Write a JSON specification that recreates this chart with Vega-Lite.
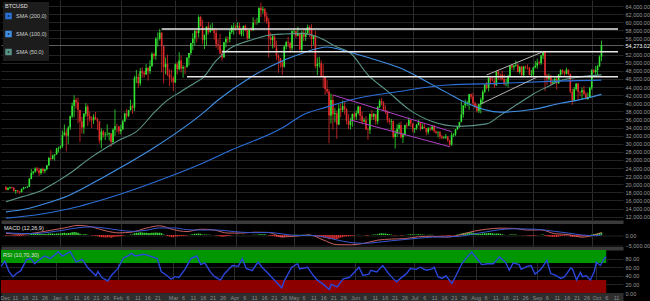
{
"$schema":"https://vega.github.io/schema/vega-lite/v6.json",
"background":"#000000",
"padding":0,
"bounds":"flush",
"spacing":3.5,
"config":{"font":"Liberation Sans","view":{"stroke":null},"axis":{"labelFont":"Liberation Sans","labelColor":"#9a9a9a","labelFontSize":5.5,"domain":false,"ticks":false,"title":null,"tickSize":0,"labelOverlap":false}},
"datasets":{
"px":[
{"d":"2020-12-04","o":19420,"h":19530,"l":18570,"c":18650,"m":-300},
{"d":"2020-12-05","o":18650,"h":19180,"l":18500,"c":19150,"m":-250},
{"d":"2020-12-06","o":19150,"h":19420,"l":18860,"c":19360,"m":-200},
{"d":"2020-12-07","o":19360,"h":19390,"l":18900,"c":19170,"m":-220},
{"d":"2020-12-08","o":19170,"h":19290,"l":18200,"c":18320,"m":-350},
{"d":"2020-12-09","o":18320,"h":18640,"l":17650,"c":18550,"m":-400},
{"d":"2020-12-10","o":18550,"h":18560,"l":17910,"c":18250,"m":-420},
{"d":"2020-12-11","o":18250,"h":18280,"l":17580,"c":18030,"m":-430},
{"d":"2020-12-12","o":18030,"h":18950,"l":18020,"c":18800,"m":-350},
{"d":"2020-12-13","o":18800,"h":19400,"l":18720,"c":19170,"m":-250},
{"d":"2020-12-14","o":19170,"h":19350,"l":19000,"c":19270,"m":-150},
{"d":"2020-12-15","o":19270,"h":19560,"l":19080,"c":19430,"m":-80},
{"d":"2020-12-16","o":19430,"h":21560,"l":19300,"c":21330,"m":200},
{"d":"2020-12-17","o":21330,"h":23770,"l":21250,"c":22800,"m":500},
{"d":"2020-12-18","o":22800,"h":23290,"l":22350,"c":23140,"m":650},
{"d":"2020-12-19","o":23140,"h":24170,"l":22800,"c":23870,"m":750},
{"d":"2020-12-20","o":23870,"h":24290,"l":23080,"c":23470,"m":700},
{"d":"2020-12-21","o":23470,"h":24070,"l":22020,"c":22740,"m":550},
{"d":"2020-12-22","o":22740,"h":23840,"l":22350,"c":23820,"m":550},
{"d":"2020-12-23","o":23820,"h":24100,"l":22720,"c":23250,"m":450},
{"d":"2020-12-24","o":23250,"h":23790,"l":22700,"c":23720,"m":420},
{"d":"2020-12-25","o":23720,"h":24780,"l":23450,"c":24700,"m":500},
{"d":"2020-12-26","o":24700,"h":26770,"l":24500,"c":26490,"m":700},
{"d":"2020-12-27","o":26490,"h":28420,"l":25860,"c":26280,"m":650},
{"d":"2020-12-28","o":26280,"h":27410,"l":26120,"c":27080,"m":650},
{"d":"2020-12-29","o":27080,"h":27390,"l":25880,"c":27360,"m":620},
{"d":"2020-12-30","o":27360,"h":28990,"l":27330,"c":28840,"m":700},
{"d":"2020-12-31","o":28840,"h":29300,"l":27860,"c":29000,"m":720},
{"d":"2021-01-01","o":29000,"h":29600,"l":28700,"c":29370,"m":700},
{"d":"2021-01-02","o":29370,"h":33300,"l":29000,"c":32130,"m":900},
{"d":"2021-01-03","o":32130,"h":34780,"l":32000,"c":32780,"m":1000},
{"d":"2021-01-04","o":32780,"h":33600,"l":28130,"c":31970,"m":850},
{"d":"2021-01-05","o":31970,"h":34400,"l":29900,"c":33990,"m":900},
{"d":"2021-01-06","o":33990,"h":36940,"l":33400,"c":36820,"m":1050},
{"d":"2021-01-07","o":36820,"h":40180,"l":36320,"c":39370,"m":1250},
{"d":"2021-01-08","o":39370,"h":41950,"l":36570,"c":40800,"m":1350},
{"d":"2021-01-09","o":40800,"h":41350,"l":38750,"c":40250,"m":1250},
{"d":"2021-01-10","o":40250,"h":41400,"l":35100,"c":38350,"m":1000},
{"d":"2021-01-11","o":38350,"h":38350,"l":30420,"c":35570,"m":550},
{"d":"2021-01-12","o":35570,"h":36630,"l":32530,"c":34000,"m":250},
{"d":"2021-01-13","o":34000,"h":37600,"l":32450,"c":37390,"m":300},
{"d":"2021-01-14","o":37390,"h":40000,"l":36700,"c":39160,"m":350},
{"d":"2021-01-15","o":39160,"h":39700,"l":34400,"c":36830,"m":150},
{"d":"2021-01-16","o":36830,"h":37950,"l":35400,"c":36070,"m":-50},
{"d":"2021-01-17","o":36070,"h":36800,"l":33850,"c":35800,"m":-200},
{"d":"2021-01-18","o":35800,"h":37300,"l":34900,"c":36630,"m":-250},
{"d":"2021-01-19","o":36630,"h":37850,"l":35900,"c":36070,"m":-350},
{"d":"2021-01-20","o":36070,"h":36400,"l":33400,"c":35550,"m":-450},
{"d":"2021-01-21","o":35550,"h":35550,"l":30070,"c":30830,"m":-900},
{"d":"2021-01-22","o":30830,"h":33800,"l":28850,"c":33000,"m":-1000},
{"d":"2021-01-23","o":33000,"h":33400,"l":31500,"c":32100,"m":-1100},
{"d":"2021-01-24","o":32100,"h":32900,"l":30900,"c":32290,"m":-1150},
{"d":"2021-01-25","o":32290,"h":34800,"l":32000,"c":32370,"m":-1150},
{"d":"2021-01-26","o":32370,"h":32800,"l":30800,"c":32570,"m":-1100},
{"d":"2021-01-27","o":32570,"h":32560,"l":29240,"c":30430,"m":-1250},
{"d":"2021-01-28","o":30430,"h":33800,"l":29900,"c":33470,"m":-1050},
{"d":"2021-01-29","o":33470,"h":38500,"l":31950,"c":34320,"m":-850},
{"d":"2021-01-30","o":34320,"h":34900,"l":32900,"c":34300,"m":-700},
{"d":"2021-01-31","o":34300,"h":34300,"l":32300,"c":33110,"m":-650},
{"d":"2021-02-01","o":33110,"h":34700,"l":32300,"c":33540,"m":-550},
{"d":"2021-02-02","o":33540,"h":35900,"l":33450,"c":35510,"m":-350},
{"d":"2021-02-03","o":35510,"h":37650,"l":35380,"c":37470,"m":-100},
{"d":"2021-02-04","o":37470,"h":38600,"l":36200,"c":36930,"m":-50},
{"d":"2021-02-05","o":36930,"h":38300,"l":36600,"c":38290,"m":50},
{"d":"2021-02-06","o":38290,"h":40900,"l":38200,"c":39260,"m":200},
{"d":"2021-02-07","o":39260,"h":39700,"l":37400,"c":38900,"m":250},
{"d":"2021-02-08","o":38900,"h":46800,"l":38100,"c":46200,"m":800},
{"d":"2021-02-09","o":46200,"h":48200,"l":45000,"c":46480,"m":1100},
{"d":"2021-02-10","o":46480,"h":47300,"l":43800,"c":44920,"m":1100},
{"d":"2021-02-11","o":44920,"h":48700,"l":44300,"c":47910,"m":1250},
{"d":"2021-02-12","o":47910,"h":48900,"l":46300,"c":47500,"m":1200},
{"d":"2021-02-13","o":47500,"h":48000,"l":46300,"c":47110,"m":1100},
{"d":"2021-02-14","o":47110,"h":49700,"l":47000,"c":48720,"m":1100},
{"d":"2021-02-15","o":48720,"h":49000,"l":45600,"c":47940,"m":950},
{"d":"2021-02-16","o":47940,"h":50600,"l":47200,"c":49200,"m":950},
{"d":"2021-02-17","o":49200,"h":52600,"l":48900,"c":52150,"m":1100},
{"d":"2021-02-18","o":52150,"h":52500,"l":50900,"c":51680,"m":1000},
{"d":"2021-02-19","o":51680,"h":56300,"l":50700,"c":55890,"m":1150},
{"d":"2021-02-20","o":55890,"h":57500,"l":54000,"c":55920,"m":1100},
{"d":"2021-02-21","o":55920,"h":58350,"l":55500,"c":57410,"m":1100},
{"d":"2021-02-22","o":57410,"h":57500,"l":47600,"c":54090,"m":800},
{"d":"2021-02-23","o":54090,"h":54200,"l":44900,"c":48890,"m":200},
{"d":"2021-02-24","o":48890,"h":51300,"l":47100,"c":49700,"m":-100},
{"d":"2021-02-25","o":49700,"h":52000,"l":46700,"c":47090,"m":-450},
{"d":"2021-02-26","o":47090,"h":48400,"l":44200,"c":46340,"m":-750},
{"d":"2021-02-27","o":46340,"h":48300,"l":45100,"c":46190,"m":-900},
{"d":"2021-02-28","o":46190,"h":46700,"l":43000,"c":45140,"m":-1050},
{"d":"2021-03-01","o":45140,"h":49800,"l":45000,"c":49630,"m":-700},
{"d":"2021-03-02","o":49630,"h":50200,"l":47100,"c":48380,"m":-650},
{"d":"2021-03-03","o":48380,"h":52600,"l":48100,"c":50540,"m":-450},
{"d":"2021-03-04","o":50540,"h":51800,"l":47600,"c":48560,"m":-500},
{"d":"2021-03-05","o":48560,"h":49400,"l":46300,"c":48930,"m":-450},
{"d":"2021-03-06","o":48930,"h":49200,"l":47100,"c":48910,"m":-400},
{"d":"2021-03-07","o":48910,"h":51400,"l":48900,"c":51210,"m":-200},
{"d":"2021-03-08","o":51210,"h":52400,"l":49300,"c":52380,"m":0},
{"d":"2021-03-09","o":52380,"h":54900,"l":51900,"c":54880,"m":250},
{"d":"2021-03-10","o":54880,"h":57300,"l":53100,"c":55960,"m":400},
{"d":"2021-03-11","o":55960,"h":58100,"l":54300,"c":57800,"m":550},
{"d":"2021-03-12","o":57800,"h":58000,"l":55000,"c":57330,"m":550},
{"d":"2021-03-13","o":57330,"h":61700,"l":56200,"c":61240,"m":750},
{"d":"2021-03-14","o":61240,"h":61600,"l":58900,"c":59030,"m":600},
{"d":"2021-03-15","o":59030,"h":60600,"l":54600,"c":55640,"m":250},
{"d":"2021-03-16","o":55640,"h":56900,"l":53400,"c":56920,"m":200},
{"d":"2021-03-17","o":56920,"h":58900,"l":54200,"c":58920,"m":250},
{"d":"2021-03-18","o":58920,"h":60000,"l":57000,"c":57650,"m":150},
{"d":"2021-03-19","o":57650,"h":59400,"l":57400,"c":58030,"m":100},
{"d":"2021-03-20","o":58030,"h":59800,"l":57900,"c":58100,"m":50},
{"d":"2021-03-21","o":58100,"h":58600,"l":55700,"c":57350,"m":-50},
{"d":"2021-03-22","o":57350,"h":58300,"l":53700,"c":54530,"m":-250},
{"d":"2021-03-23","o":54530,"h":55800,"l":53100,"c":54340,"m":-400},
{"d":"2021-03-24","o":54340,"h":57100,"l":52100,"c":52300,"m":-600},
{"d":"2021-03-25","o":52300,"h":53200,"l":50500,"c":51320,"m":-800},
{"d":"2021-03-26","o":51320,"h":55100,"l":51300,"c":55030,"m":-700},
{"d":"2021-03-27","o":55030,"h":56500,"l":53800,"c":55860,"m":-600},
{"d":"2021-03-28","o":55860,"h":56500,"l":54800,"c":55780,"m":-500},
{"d":"2021-03-29","o":55780,"h":58300,"l":55000,"c":57590,"m":-300},
{"d":"2021-03-30","o":57590,"h":59300,"l":57100,"c":58770,"m":-100},
{"d":"2021-03-31","o":58770,"h":59800,"l":56900,"c":58900,"m":0},
{"d":"2021-04-01","o":58900,"h":59400,"l":57900,"c":58760,"m":50},
{"d":"2021-04-02","o":58760,"h":60000,"l":58500,"c":59080,"m":100},
{"d":"2021-04-03","o":59080,"h":59800,"l":57000,"c":57000,"m":50},
{"d":"2021-04-04","o":57000,"h":58400,"l":56500,"c":58220,"m":50},
{"d":"2021-04-05","o":58220,"h":59200,"l":56500,"c":59100,"m":100},
{"d":"2021-04-06","o":59100,"h":59400,"l":57700,"c":57990,"m":50},
{"d":"2021-04-07","o":57990,"h":58600,"l":55500,"c":55990,"m":-50},
{"d":"2021-04-08","o":55990,"h":58200,"l":55800,"c":58090,"m":0},
{"d":"2021-04-09","o":58090,"h":58800,"l":57700,"c":58040,"m":0},
{"d":"2021-04-10","o":58040,"h":61200,"l":57900,"c":59890,"m":100},
{"d":"2021-04-11","o":59890,"h":60700,"l":59400,"c":59860,"m":150},
{"d":"2021-04-12","o":59860,"h":61100,"l":59400,"c":59880,"m":150},
{"d":"2021-04-13","o":59880,"h":63600,"l":59800,"c":63560,"m":350},
{"d":"2021-04-14","o":63560,"h":64850,"l":61300,"c":62960,"m":400},
{"d":"2021-04-15","o":62960,"h":63800,"l":62100,"c":63200,"m":400},
{"d":"2021-04-16","o":63200,"h":63500,"l":60100,"c":61400,"m":300},
{"d":"2021-04-17","o":61400,"h":62500,"l":59600,"c":60130,"m":150},
{"d":"2021-04-18","o":60130,"h":61000,"l":51300,"c":56150,"m":-250},
{"d":"2021-04-19","o":56150,"h":57500,"l":54400,"c":55600,"m":-450},
{"d":"2021-04-20","o":55600,"h":57000,"l":53500,"c":56470,"m":-450},
{"d":"2021-04-21","o":56470,"h":56700,"l":53800,"c":53800,"m":-600},
{"d":"2021-04-22","o":53800,"h":55400,"l":50600,"c":51700,"m":-800},
{"d":"2021-04-23","o":51700,"h":52100,"l":47500,"c":51150,"m":-950},
{"d":"2021-04-24","o":51150,"h":51200,"l":48800,"c":50050,"m":-1050},
{"d":"2021-04-25","o":50050,"h":50500,"l":47000,"c":49000,"m":-1150},
{"d":"2021-04-26","o":49000,"h":54300,"l":48800,"c":54020,"m":-850},
{"d":"2021-04-27","o":54020,"h":55400,"l":53300,"c":55050,"m":-550},
{"d":"2021-04-28","o":55050,"h":56400,"l":53900,"c":54880,"m":-400},
{"d":"2021-04-29","o":54880,"h":55200,"l":52400,"c":53580,"m":-350},
{"d":"2021-04-30","o":53580,"h":58000,"l":53000,"c":57750,"m":-50},
{"d":"2021-05-01","o":57750,"h":58400,"l":57100,"c":57830,"m":100},
{"d":"2021-05-02","o":57830,"h":57900,"l":56100,"c":56630,"m":100},
{"d":"2021-05-03","o":56630,"h":58900,"l":56500,"c":57200,"m":150},
{"d":"2021-05-04","o":57200,"h":57200,"l":53000,"c":53250,"m":-50},
{"d":"2021-05-05","o":53250,"h":57900,"l":52900,"c":57440,"m":100},
{"d":"2021-05-06","o":57440,"h":58300,"l":55300,"c":56400,"m":100},
{"d":"2021-05-07","o":56400,"h":58500,"l":55400,"c":57360,"m":150},
{"d":"2021-05-08","o":57360,"h":59400,"l":56900,"c":58800,"m":200},
{"d":"2021-05-09","o":58800,"h":59200,"l":56300,"c":58230,"m":200},
{"d":"2021-05-10","o":58230,"h":59500,"l":53500,"c":55860,"m":50},
{"d":"2021-05-11","o":55860,"h":56800,"l":54400,"c":56700,"m":50},
{"d":"2021-05-12","o":56700,"h":57900,"l":48600,"c":49150,"m":-450},
{"d":"2021-05-13","o":49150,"h":51300,"l":46900,"c":49720,"m":-700},
{"d":"2021-05-14","o":49720,"h":51500,"l":48800,"c":49880,"m":-850},
{"d":"2021-05-15","o":49880,"h":50600,"l":46600,"c":46760,"m":-1100},
{"d":"2021-05-16","o":46760,"h":49700,"l":43800,"c":46450,"m":-1200},
{"d":"2021-05-17","o":46450,"h":46600,"l":42100,"c":43540,"m":-1400},
{"d":"2021-05-18","o":43540,"h":45700,"l":42300,"c":42910,"m":-1500},
{"d":"2021-05-19","o":42910,"h":43500,"l":30100,"c":37000,"m":-2000},
{"d":"2021-05-20","o":37000,"h":42400,"l":35000,"c":40780,"m":-1900},
{"d":"2021-05-21","o":40780,"h":42100,"l":33500,"c":37300,"m":-2000},
{"d":"2021-05-22","o":37300,"h":38800,"l":35300,"c":37530,"m":-1900},
{"d":"2021-05-23","o":37530,"h":38200,"l":31200,"c":34770,"m":-2000},
{"d":"2021-05-24","o":34770,"h":39800,"l":34600,"c":38700,"m":-1500},
{"d":"2021-05-25","o":38700,"h":39800,"l":36500,"c":38400,"m":-1200},
{"d":"2021-05-26","o":38400,"h":40700,"l":37800,"c":39290,"m":-900},
{"d":"2021-05-27","o":39290,"h":40300,"l":37200,"c":38530,"m":-700},
{"d":"2021-05-28","o":38530,"h":38800,"l":34800,"c":35680,"m":-700},
{"d":"2021-05-29","o":35680,"h":37300,"l":33600,"c":34650,"m":-600},
{"d":"2021-05-30","o":34650,"h":36400,"l":33500,"c":35680,"m":-500},
{"d":"2021-05-31","o":35680,"h":37500,"l":34200,"c":37340,"m":-300},
{"d":"2021-06-01","o":37340,"h":37900,"l":35700,"c":36690,"m":-200},
{"d":"2021-06-02","o":36690,"h":38200,"l":35900,"c":37570,"m":-50},
{"d":"2021-06-03","o":37570,"h":39400,"l":37200,"c":39190,"m":150},
{"d":"2021-06-04","o":39190,"h":39200,"l":35600,"c":36850,"m":50},
{"d":"2021-06-05","o":36850,"h":37900,"l":34800,"c":35520,"m":-50},
{"d":"2021-06-06","o":35520,"h":36400,"l":35300,"c":35800,"m":0},
{"d":"2021-06-07","o":35800,"h":36800,"l":33400,"c":33590,"m":-200},
{"d":"2021-06-08","o":33590,"h":34000,"l":31000,"c":33470,"m":-300},
{"d":"2021-06-09","o":33470,"h":37500,"l":32400,"c":37350,"m":0},
{"d":"2021-06-10","o":37350,"h":38300,"l":35800,"c":36680,"m":100},
{"d":"2021-06-11","o":36680,"h":37600,"l":35900,"c":37330,"m":250},
{"d":"2021-06-12","o":37330,"h":37400,"l":34700,"c":35550,"m":200},
{"d":"2021-06-13","o":35550,"h":39300,"l":34800,"c":39100,"m":400},
{"d":"2021-06-14","o":39100,"h":41000,"l":38800,"c":40520,"m":650},
{"d":"2021-06-15","o":40520,"h":41300,"l":39500,"c":40140,"m":800},
{"d":"2021-06-16","o":40140,"h":40500,"l":38200,"c":38350,"m":750},
{"d":"2021-06-17","o":38350,"h":39500,"l":37400,"c":38090,"m":700},
{"d":"2021-06-18","o":38090,"h":38200,"l":35200,"c":35820,"m":500},
{"d":"2021-06-19","o":35820,"h":36400,"l":34800,"c":35480,"m":350},
{"d":"2021-06-20","o":35480,"h":36100,"l":33400,"c":35600,"m":250},
{"d":"2021-06-21","o":35600,"h":35700,"l":31300,"c":31680,"m":-100},
{"d":"2021-06-22","o":31680,"h":33300,"l":28800,"c":32510,"m":-200},
{"d":"2021-06-23","o":32510,"h":34800,"l":31700,"c":33690,"m":-150},
{"d":"2021-06-24","o":33690,"h":35200,"l":32300,"c":34660,"m":-50},
{"d":"2021-06-25","o":34660,"h":35500,"l":31300,"c":31590,"m":-250},
{"d":"2021-06-26","o":31590,"h":32700,"l":30200,"c":32200,"m":-250},
{"d":"2021-06-27","o":32200,"h":34700,"l":32000,"c":34650,"m":-50},
{"d":"2021-06-28","o":34650,"h":35300,"l":33900,"c":34480,"m":100},
{"d":"2021-06-29","o":34480,"h":36500,"l":34300,"c":35870,"m":250},
{"d":"2021-06-30","o":35870,"h":36000,"l":34100,"c":35040,"m":300},
{"d":"2021-07-01","o":35040,"h":35000,"l":32800,"c":33570,"m":200},
{"d":"2021-07-02","o":33570,"h":33900,"l":32700,"c":33900,"m":200},
{"d":"2021-07-03","o":33900,"h":34900,"l":33400,"c":34690,"m":250},
{"d":"2021-07-04","o":34690,"h":35900,"l":34500,"c":35290,"m":300},
{"d":"2021-07-05","o":35290,"h":35300,"l":33200,"c":33690,"m":200},
{"d":"2021-07-06","o":33690,"h":35000,"l":33600,"c":34220,"m":200},
{"d":"2021-07-07","o":34220,"h":35000,"l":33800,"c":33860,"m":150},
{"d":"2021-07-08","o":33860,"h":33900,"l":32100,"c":32870,"m":50},
{"d":"2021-07-09","o":32870,"h":34100,"l":32300,"c":33810,"m":100},
{"d":"2021-07-10","o":33810,"h":34200,"l":33100,"c":33510,"m":100},
{"d":"2021-07-11","o":33510,"h":34600,"l":33300,"c":34260,"m":150},
{"d":"2021-07-12","o":34260,"h":34700,"l":32700,"c":33090,"m":50},
{"d":"2021-07-13","o":33090,"h":33300,"l":32300,"c":32730,"m":0},
{"d":"2021-07-14","o":32730,"h":33100,"l":31600,"c":32820,"m":-50},
{"d":"2021-07-15","o":32820,"h":33200,"l":31200,"c":31780,"m":-150},
{"d":"2021-07-16","o":31780,"h":32200,"l":31100,"c":31420,"m":-200},
{"d":"2021-07-17","o":31420,"h":31900,"l":31200,"c":31520,"m":-250},
{"d":"2021-07-18","o":31520,"h":32400,"l":31200,"c":31780,"m":-250},
{"d":"2021-07-19","o":31780,"h":31900,"l":30500,"c":30840,"m":-350},
{"d":"2021-07-20","o":30840,"h":31000,"l":29300,"c":29790,"m":-450},
{"d":"2021-07-21","o":29790,"h":32800,"l":29500,"c":32140,"m":-250},
{"d":"2021-07-22","o":32140,"h":32600,"l":31700,"c":32310,"m":-150},
{"d":"2021-07-23","o":32310,"h":33600,"l":31900,"c":33580,"m":0},
{"d":"2021-07-24","o":33580,"h":34400,"l":33400,"c":34290,"m":200},
{"d":"2021-07-25","o":34290,"h":35400,"l":33900,"c":35380,"m":400},
{"d":"2021-07-26","o":35380,"h":40500,"l":35300,"c":37270,"m":650},
{"d":"2021-07-27","o":37270,"h":39500,"l":36500,"c":39460,"m":900},
{"d":"2021-07-28","o":39460,"h":40900,"l":38800,"c":40000,"m":1100},
{"d":"2021-07-29","o":40000,"h":40600,"l":39300,"c":40020,"m":1150},
{"d":"2021-07-30","o":40020,"h":42300,"l":38400,"c":42240,"m":1300},
{"d":"2021-07-31","o":42240,"h":42400,"l":41000,"c":41630,"m":1300},
{"d":"2021-08-01","o":41630,"h":42600,"l":39500,"c":39970,"m":1100},
{"d":"2021-08-02","o":39970,"h":40400,"l":38700,"c":39200,"m":850},
{"d":"2021-08-03","o":39200,"h":39800,"l":37700,"c":38150,"m":600},
{"d":"2021-08-04","o":38150,"h":39900,"l":37600,"c":39750,"m":550},
{"d":"2021-08-05","o":39750,"h":41400,"l":37500,"c":40870,"m":550},
{"d":"2021-08-06","o":40870,"h":43300,"l":39900,"c":42830,"m":700},
{"d":"2021-08-07","o":42830,"h":44700,"l":42500,"c":44630,"m":850},
{"d":"2021-08-08","o":44630,"h":45300,"l":43400,"c":43820,"m":850},
{"d":"2021-08-09","o":43820,"h":46400,"l":42900,"c":46290,"m":950},
{"d":"2021-08-10","o":46290,"h":46600,"l":44700,"c":45600,"m":900},
{"d":"2021-08-11","o":45600,"h":46700,"l":45400,"c":45580,"m":800},
{"d":"2021-08-12","o":45580,"h":46200,"l":43800,"c":44430,"m":600},
{"d":"2021-08-13","o":44430,"h":47900,"l":44300,"c":47830,"m":700},
{"d":"2021-08-14","o":47830,"h":48100,"l":45800,"c":47100,"m":650},
{"d":"2021-08-15","o":47100,"h":47300,"l":45600,"c":47050,"m":550},
{"d":"2021-08-16","o":47050,"h":48000,"l":45600,"c":46000,"m":400},
{"d":"2021-08-17","o":46000,"h":47100,"l":44400,"c":44700,"m":150},
{"d":"2021-08-18","o":44700,"h":46000,"l":44200,"c":44800,"m":0},
{"d":"2021-08-19","o":44800,"h":47000,"l":43900,"c":46720,"m":0},
{"d":"2021-08-20","o":46720,"h":49300,"l":46600,"c":49340,"m":200},
{"d":"2021-08-21","o":49340,"h":49700,"l":48300,"c":48900,"m":250},
{"d":"2021-08-22","o":48900,"h":49500,"l":48100,"c":49320,"m":250},
{"d":"2021-08-23","o":49320,"h":50500,"l":49000,"c":49530,"m":250},
{"d":"2021-08-24","o":49530,"h":49800,"l":47600,"c":47710,"m":50},
{"d":"2021-08-25","o":47710,"h":49200,"l":47200,"c":48990,"m":0},
{"d":"2021-08-26","o":48990,"h":49300,"l":46400,"c":46940,"m":-150},
{"d":"2021-08-27","o":46940,"h":49200,"l":46400,"c":49060,"m":-100},
{"d":"2021-08-28","o":49060,"h":49300,"l":48400,"c":48900,"m":-150},
{"d":"2021-08-29","o":48900,"h":49600,"l":48300,"c":48810,"m":-200},
{"d":"2021-08-30","o":48810,"h":48900,"l":46900,"c":46990,"m":-350},
{"d":"2021-08-31","o":46990,"h":48200,"l":46700,"c":47130,"m":-400},
{"d":"2021-09-01","o":47130,"h":49000,"l":46600,"c":48850,"m":-300},
{"d":"2021-09-02","o":48850,"h":50400,"l":48600,"c":49280,"m":-200},
{"d":"2021-09-03","o":49280,"h":51000,"l":48500,"c":50030,"m":-100},
{"d":"2021-09-04","o":50030,"h":50500,"l":49500,"c":49940,"m":-50},
{"d":"2021-09-05","o":49940,"h":51900,"l":49500,"c":51770,"m":100},
{"d":"2021-09-06","o":51770,"h":52900,"l":50900,"c":52660,"m":250},
{"d":"2021-09-07","o":52660,"h":52900,"l":43000,"c":46860,"m":-300},
{"d":"2021-09-08","o":46860,"h":47300,"l":44500,"c":46050,"m":-600},
{"d":"2021-09-09","o":46050,"h":47300,"l":45600,"c":46400,"m":-700},
{"d":"2021-09-10","o":46400,"h":47000,"l":44200,"c":44850,"m":-850},
{"d":"2021-09-11","o":44850,"h":45900,"l":44800,"c":45160,"m":-900},
{"d":"2021-09-12","o":45160,"h":46400,"l":44800,"c":46020,"m":-850},
{"d":"2021-09-13","o":46020,"h":46700,"l":43400,"c":44940,"m":-900},
{"d":"2021-09-14","o":44940,"h":47200,"l":44800,"c":47090,"m":-700},
{"d":"2021-09-15","o":47090,"h":48400,"l":46800,"c":48180,"m":-500},
{"d":"2021-09-16","o":48180,"h":48400,"l":47100,"c":47780,"m":-400},
{"d":"2021-09-17","o":47780,"h":48000,"l":46800,"c":47290,"m":-350},
{"d":"2021-09-18","o":47290,"h":48800,"l":47100,"c":48290,"m":-250},
{"d":"2021-09-19","o":48290,"h":48300,"l":46900,"c":47260,"m":-250},
{"d":"2021-09-20","o":47260,"h":47300,"l":42500,"c":42840,"m":-650},
{"d":"2021-09-21","o":42840,"h":43600,"l":39600,"c":40700,"m":-950},
{"d":"2021-09-22","o":40700,"h":44000,"l":40500,"c":43540,"m":-850},
{"d":"2021-09-23","o":43540,"h":44900,"l":43100,"c":44870,"m":-700},
{"d":"2021-09-24","o":44870,"h":45000,"l":40800,"c":42840,"m":-750},
{"d":"2021-09-25","o":42840,"h":42900,"l":41700,"c":42690,"m":-700},
{"d":"2021-09-26","o":42690,"h":43900,"l":40800,"c":43190,"m":-600},
{"d":"2021-09-27","o":43190,"h":44300,"l":42100,"c":42240,"m":-600},
{"d":"2021-09-28","o":42240,"h":42800,"l":40900,"c":41030,"m":-600},
{"d":"2021-09-29","o":41030,"h":42600,"l":40800,"c":41520,"m":-550},
{"d":"2021-09-30","o":41520,"h":44100,"l":41400,"c":43790,"m":-300},
{"d":"2021-10-01","o":43790,"h":48400,"l":43300,"c":48120,"m":200},
{"d":"2021-10-02","o":48120,"h":48400,"l":47400,"c":47690,"m":400},
{"d":"2021-10-03","o":47690,"h":49200,"l":47100,"c":48200,"m":550},
{"d":"2021-10-04","o":48200,"h":49500,"l":46900,"c":49110,"m":700},
{"d":"2021-10-05","o":49110,"h":51800,"l":49000,"c":51510,"m":900},
{"d":"2021-10-06","o":51510,"h":55450,"l":50400,"c":54273,"m":1200}
],
"sma":[
{"s":"SMA (50,0)","d":"2020-12-04","v":15700},{"s":"SMA (50,0)","d":"2020-12-12","v":16900},{"s":"SMA (50,0)","d":"2020-12-21","v":18200},{"s":"SMA (50,0)","d":"2020-12-30","v":20600},{"s":"SMA (50,0)","d":"2021-01-07","v":23100},{"s":"SMA (50,0)","d":"2021-01-16","v":26400},{"s":"SMA (50,0)","d":"2021-01-24","v":28900},{"s":"SMA (50,0)","d":"2021-02-01","v":31100},{"s":"SMA (50,0)","d":"2021-02-09","v":33000},{"s":"SMA (50,0)","d":"2021-02-18","v":37600},{"s":"SMA (50,0)","d":"2021-02-24","v":40400},{"s":"SMA (50,0)","d":"2021-03-04","v":42900},{"s":"SMA (50,0)","d":"2021-03-11","v":45000},{"s":"SMA (50,0)","d":"2021-03-15","v":46200},{"s":"SMA (50,0)","d":"2021-03-22","v":50500},{"s":"SMA (50,0)","d":"2021-03-29","v":53500},{"s":"SMA (50,0)","d":"2021-04-09","v":55600},{"s":"SMA (50,0)","d":"2021-04-18","v":56800},{"s":"SMA (50,0)","d":"2021-04-26","v":57100},{"s":"SMA (50,0)","d":"2021-05-05","v":57250},{"s":"SMA (50,0)","d":"2021-05-13","v":56400},{"s":"SMA (50,0)","d":"2021-05-23","v":53900},{"s":"SMA (50,0)","d":"2021-05-30","v":52400},{"s":"SMA (50,0)","d":"2021-06-08","v":47000},{"s":"SMA (50,0)","d":"2021-06-18","v":43000},{"s":"SMA (50,0)","d":"2021-06-29","v":38500},{"s":"SMA (50,0)","d":"2021-07-11","v":35500},{"s":"SMA (50,0)","d":"2021-07-25","v":34300},{"s":"SMA (50,0)","d":"2021-08-08","v":34900},{"s":"SMA (50,0)","d":"2021-08-15","v":37000},{"s":"SMA (50,0)","d":"2021-08-24","v":39800},{"s":"SMA (50,0)","d":"2021-09-01","v":42300},{"s":"SMA (50,0)","d":"2021-09-08","v":44000},{"s":"SMA (50,0)","d":"2021-09-15","v":45600},{"s":"SMA (50,0)","d":"2021-09-25","v":46500},{"s":"SMA (50,0)","d":"2021-10-06","v":47000},
{"s":"SMA (100,0)","d":"2020-12-04","v":13200},{"s":"SMA (100,0)","d":"2020-12-14","v":13900},{"s":"SMA (100,0)","d":"2020-12-24","v":15200},{"s":"SMA (100,0)","d":"2021-01-05","v":17200},{"s":"SMA (100,0)","d":"2021-01-24","v":22000},{"s":"SMA (100,0)","d":"2021-02-18","v":29000},{"s":"SMA (100,0)","d":"2021-03-15","v":37500},{"s":"SMA (100,0)","d":"2021-03-23","v":40800},{"s":"SMA (100,0)","d":"2021-04-09","v":46500},{"s":"SMA (100,0)","d":"2021-04-26","v":50700},{"s":"SMA (100,0)","d":"2021-05-05","v":52300},{"s":"SMA (100,0)","d":"2021-05-18","v":53900},{"s":"SMA (100,0)","d":"2021-05-26","v":53100},{"s":"SMA (100,0)","d":"2021-06-10","v":51000},{"s":"SMA (100,0)","d":"2021-06-24","v":48800},{"s":"SMA (100,0)","d":"2021-07-11","v":44600},{"s":"SMA (100,0)","d":"2021-07-19","v":42500},{"s":"SMA (100,0)","d":"2021-07-28","v":40200},{"s":"SMA (100,0)","d":"2021-08-15","v":37800},{"s":"SMA (100,0)","d":"2021-09-01","v":38500},{"s":"SMA (100,0)","d":"2021-09-15","v":40000},{"s":"SMA (100,0)","d":"2021-09-25","v":40900},{"s":"SMA (100,0)","d":"2021-10-06","v":42200},
{"s":"SMA (200,0)","d":"2020-12-04","v":11650},{"s":"SMA (200,0)","d":"2020-12-20","v":12500},{"s":"SMA (200,0)","d":"2021-01-05","v":13900},{"s":"SMA (200,0)","d":"2021-02-01","v":17600},{"s":"SMA (200,0)","d":"2021-02-26","v":21900},{"s":"SMA (200,0)","d":"2021-03-15","v":25200},{"s":"SMA (200,0)","d":"2021-03-30","v":28500},{"s":"SMA (200,0)","d":"2021-04-26","v":34200},{"s":"SMA (200,0)","d":"2021-05-05","v":37000},{"s":"SMA (200,0)","d":"2021-05-18","v":39100},{"s":"SMA (200,0)","d":"2021-05-30","v":40800},{"s":"SMA (200,0)","d":"2021-06-24","v":42900},{"s":"SMA (200,0)","d":"2021-07-19","v":44500},{"s":"SMA (200,0)","d":"2021-08-15","v":44900},{"s":"SMA (200,0)","d":"2021-09-09","v":45400},{"s":"SMA (200,0)","d":"2021-10-06","v":45700}
],
"ann":[
{"g":"L1","k":"level","d":"2021-02-22","p":58320},{"g":"L1","k":"level","d":"2021-10-14T12:00:00Z","p":58320},
{"g":"L2","k":"level","d":"2021-03-25","p":52720},{"g":"L2","k":"level","d":"2021-10-14T12:00:00Z","p":52720},
{"g":"L3","k":"level","d":"2021-03-07","p":46550},{"g":"L3","k":"level","d":"2021-10-14T12:00:00Z","p":46550},
{"g":"D1","k":"down","d":"2021-05-21","p":42035},{"g":"D1","k":"down","d":"2021-07-21","p":32980},
{"g":"D2","k":"down","d":"2021-05-30","p":35870},{"g":"D2","k":"down","d":"2021-07-20","p":29275},
{"g":"U1","k":"up","d":"2021-08-08","p":46970},{"g":"U1","k":"up","d":"2021-09-06","p":52720},
{"g":"U2","k":"up","d":"2021-08-05","p":39815},{"g":"U2","k":"up","d":"2021-09-03","p":46480}
],
"macd":[
{"d":"2020-12-04","a":800,"b":1100},{"d":"2020-12-12","a":300,"b":700},{"d":"2020-12-19","a":1000,"b":700},{"d":"2020-12-27","a":2200,"b":1400},{"d":"2021-01-03","a":3300,"b":2300},{"d":"2021-01-10","a":4500,"b":3400},{"d":"2021-01-17","a":3800,"b":3800},{"d":"2021-01-24","a":2000,"b":3200},{"d":"2021-01-31","a":1000,"b":2300},{"d":"2021-02-07","a":1400,"b":1700},{"d":"2021-02-14","a":3200,"b":2200},{"d":"2021-02-21","a":4300,"b":3300},{"d":"2021-02-28","a":2500,"b":3300},{"d":"2021-03-07","a":1600,"b":2500},{"d":"2021-03-14","a":2700,"b":2300},{"d":"2021-03-21","a":2300,"b":2400},{"d":"2021-03-28","a":900,"b":1900},{"d":"2021-04-04","a":900,"b":1300},{"d":"2021-04-11","a":1300,"b":1100},{"d":"2021-04-18","a":1200,"b":1200},{"d":"2021-04-25","a":-900,"b":500},{"d":"2021-05-02","a":-500,"b":-200},{"d":"2021-05-09","a":0,"b":-200},{"d":"2021-05-16","a":-2300,"b":-800},{"d":"2021-05-23","a":-4500,"b":-2300},{"d":"2021-05-30","a":-4600,"b":-3500},{"d":"2021-06-06","a":-3900,"b":-3900},{"d":"2021-06-13","a":-2400,"b":-3400},{"d":"2021-06-20","a":-1900,"b":-2700},{"d":"2021-06-27","a":-1700,"b":-2100},{"d":"2021-07-04","a":-800,"b":-1500},{"d":"2021-07-11","a":-600,"b":-1000},{"d":"2021-07-18","a":-1000,"b":-900},{"d":"2021-07-25","a":0,"b":-600},{"d":"2021-08-01","a":1700,"b":400},{"d":"2021-08-08","a":2700,"b":1500},{"d":"2021-08-15","a":3200,"b":2500},{"d":"2021-08-22","a":3100,"b":2900},{"d":"2021-08-29","a":2300,"b":2800},{"d":"2021-09-05","a":2400,"b":2500},{"d":"2021-09-12","a":600,"b":1700},{"d":"2021-09-19","a":200,"b":900},{"d":"2021-09-26","a":-1000,"b":0},{"d":"2021-10-03","a":200,"b":-300},{"d":"2021-10-06","a":1200,"b":0}
],
"rsi":[
{"d":"2020-12-04","r":62},{"d":"2020-12-06","r":74},{"d":"2020-12-08","r":50},{"d":"2020-12-10","r":38},{"d":"2020-12-12","r":46},{"d":"2020-12-14","r":52},{"d":"2020-12-17","r":78},{"d":"2020-12-19","r":80},{"d":"2020-12-21","r":68},{"d":"2020-12-23","r":76},{"d":"2020-12-26","r":86},{"d":"2020-12-29","r":80},{"d":"2021-01-02","r":96},{"d":"2021-01-04","r":86},{"d":"2021-01-08","r":96},{"d":"2021-01-11","r":72},{"d":"2021-01-14","r":78},{"d":"2021-01-17","r":58},{"d":"2021-01-21","r":40},{"d":"2021-01-22","r":50},{"d":"2021-01-24","r":36},{"d":"2021-01-27","r":28},{"d":"2021-01-29","r":42},{"d":"2021-02-01","r":56},{"d":"2021-02-04","r":82},{"d":"2021-02-06","r":86},{"d":"2021-02-08","r":92},{"d":"2021-02-10","r":86},{"d":"2021-02-14","r":90},{"d":"2021-02-16","r":88},{"d":"2021-02-21","r":80},{"d":"2021-02-23","r":50},{"d":"2021-02-26","r":40},{"d":"2021-02-28","r":32},{"d":"2021-03-02","r":38},{"d":"2021-03-04","r":36},{"d":"2021-03-07","r":55},{"d":"2021-03-10","r":80},{"d":"2021-03-13","r":86},{"d":"2021-03-15","r":66},{"d":"2021-03-17","r":70},{"d":"2021-03-20","r":48},{"d":"2021-03-22","r":38},{"d":"2021-03-25","r":30},{"d":"2021-03-27","r":45},{"d":"2021-03-31","r":64},{"d":"2021-04-03","r":62},{"d":"2021-04-05","r":80},{"d":"2021-04-07","r":57},{"d":"2021-04-10","r":52},{"d":"2021-04-13","r":72},{"d":"2021-04-15","r":60},{"d":"2021-04-18","r":46},{"d":"2021-04-22","r":26},{"d":"2021-04-25","r":12},{"d":"2021-04-26","r":26},{"d":"2021-04-30","r":60},{"d":"2021-05-03","r":68},{"d":"2021-05-04","r":56},{"d":"2021-05-08","r":60},{"d":"2021-05-11","r":40},{"d":"2021-05-13","r":30},{"d":"2021-05-16","r":20},{"d":"2021-05-19","r":8},{"d":"2021-05-20","r":20},{"d":"2021-05-23","r":14},{"d":"2021-05-26","r":33},{"d":"2021-05-29","r":36},{"d":"2021-05-31","r":45},{"d":"2021-06-03","r":60},{"d":"2021-06-05","r":41},{"d":"2021-06-08","r":44},{"d":"2021-06-09","r":53},{"d":"2021-06-12","r":49},{"d":"2021-06-15","r":64},{"d":"2021-06-18","r":45},{"d":"2021-06-21","r":30},{"d":"2021-06-22","r":26},{"d":"2021-06-24","r":34},{"d":"2021-06-27","r":45},{"d":"2021-06-29","r":57},{"d":"2021-07-02","r":55},{"d":"2021-07-04","r":60},{"d":"2021-07-07","r":53},{"d":"2021-07-10","r":56},{"d":"2021-07-11","r":60},{"d":"2021-07-13","r":38},{"d":"2021-07-15","r":34},{"d":"2021-07-17","r":40},{"d":"2021-07-20","r":22},{"d":"2021-07-22","r":40},{"d":"2021-07-25","r":68},{"d":"2021-07-27","r":80},{"d":"2021-07-29","r":90},{"d":"2021-07-30","r":95},{"d":"2021-08-02","r":78},{"d":"2021-08-04","r":66},{"d":"2021-08-07","r":68},{"d":"2021-08-10","r":68},{"d":"2021-08-13","r":84},{"d":"2021-08-16","r":72},{"d":"2021-08-18","r":53},{"d":"2021-08-20","r":70},{"d":"2021-08-23","r":66},{"d":"2021-08-24","r":55},{"d":"2021-08-27","r":62},{"d":"2021-08-29","r":64},{"d":"2021-08-31","r":44},{"d":"2021-09-03","r":55},{"d":"2021-09-06","r":76},{"d":"2021-09-08","r":45},{"d":"2021-09-10","r":42},{"d":"2021-09-13","r":34},{"d":"2021-09-15","r":38},{"d":"2021-09-18","r":58},{"d":"2021-09-19","r":56},{"d":"2021-09-21","r":30},{"d":"2021-09-23","r":48},{"d":"2021-09-24","r":38},{"d":"2021-09-26","r":40},{"d":"2021-09-28","r":30},{"d":"2021-09-30","r":50},{"d":"2021-10-01","r":72},{"d":"2021-10-03","r":64},{"d":"2021-10-05","r":80},{"d":"2021-10-06","r":84}
],
"bands":[
{"d1":"2020-12-04","d2":"2021-10-06","lo":70,"hi":100},
{"d1":"2020-12-04","d2":"2021-10-06","lo":0,"hi":30}
]
},
"vconcat":[
{
"width":622,"height":220,
"layer":[
{"data":{"name":"px"},"mark":{"type":"rule","strokeWidth":0.8,"clip":true},
"encoding":{
"x":{"field":"d","type":"temporal","scale":{"type":"utc","domain":[1607040000000,1634212800000]},"axis":{"orient":"bottom","labels":false,"grid":true,"gridColor":"#2c2c2c","tickCount":{"interval":"month","step":1},"domain":true,"domainColor":"#3a3a3a","domainWidth":3.5,"offset":1.75}},
"y":{"field":"l","type":"quantitative","scale":{"domain":[11187,65481],"nice":false,"zero":false},"axis":{"orient":"right","values":[12000,14000,16000,18000,20000,22000,24000,26000,28000,30000,32000,34000,36000,38000,40000,42000,44000,46000,48000,50000,52000,54273.02,56000,58000,60000,62000,64000],"format":",.2f","labelOverlap":false,"grid":true,"gridColor":{"condition":{"test":"datum.value == 54273.02","value":"#5c5c5c"},"value":"#232323"},"labelColor":{"condition":{"test":"datum.value == 54273.02","value":"#ffffff"},"value":"#9a9a9a"},"labelPadding":2}},
"y2":{"field":"h"},
"color":{"condition":{"test":"datum.c >= datum.o","value":"#33e633"},"value":"#e02b2b"}}},
{"data":{"name":"px"},"mark":{"type":"bar","width":1.6,"clip":true},
"encoding":{"x":{"field":"d","type":"temporal"},"y":{"field":"o","type":"quantitative","axis":null},"y2":{"field":"c"},
"color":{"condition":{"test":"datum.c >= datum.o","value":"#33e633"},"value":"#e02b2b"}}},
{"data":{"name":"sma"},"mark":{"type":"line","strokeWidth":1.1,"clip":true,"interpolate":"monotone"},
"encoding":{"x":{"field":"d","type":"temporal"},"y":{"field":"v","type":"quantitative","axis":null},
"color":{"field":"s","type":"nominal","scale":{"domain":["SMA (200,0)","SMA (100,0)","SMA (50,0)"],"range":["#2b6fd8","#3f8fe6","#5a9488"]},
"legend":{"orient":"top-left","title":"BTCUSD","titleColor":"#e0e0e0","titleFontSize":5.5,"titleFont":"Liberation Sans","titleFontWeight":"normal","titlePadding":3,"labelColor":"#d0d0d0","labelFontSize":5.5,"labelFont":"Liberation Sans","symbolType":"square","symbolSize":16,"symbolStrokeWidth":2.5,"rowPadding":3,"padding":2,"offset":2,"fillColor":"#1c1c1c"}}}},
{"data":{"name":"ann"},"transform":[{"filter":"datum.k == 'level'"}],"mark":{"type":"line","strokeWidth":1.6,"color":"#e8e8e8","clip":true},
"encoding":{"x":{"field":"d","type":"temporal"},"y":{"field":"p","type":"quantitative","axis":null},"detail":{"field":"g"}}},
{"data":{"name":"ann"},"transform":[{"filter":"datum.k != 'level'"}],"mark":{"type":"line","strokeWidth":1,"clip":true},
"encoding":{"x":{"field":"d","type":"temporal"},"y":{"field":"p","type":"quantitative","axis":null},"detail":{"field":"g"},
"stroke":{"field":"k","type":"nominal","scale":{"domain":["down","up"],"range":["#b040c8","#b4b4b4"]},"legend":null}}}
],
"resolve":{"scale":{"color":"independent","stroke":"independent"},"axis":{"y":"independent"}}
},
{
"width":622,"height":23,
"title":{"text":"MACD (12,26,9)","anchor":"start","orient":"top","offset":-8,"fontSize":5.5,"color":"#e0e0e0","font":"Liberation Sans","fontWeight":"normal","dx":3},
"layer":[
{"data":{"name":"px"},"mark":{"type":"bar","width":1.5,"clip":true},
"encoding":{
"x":{"field":"d","type":"temporal","scale":{"type":"utc","domain":[1607040000000,1634212800000]},"axis":{"orient":"bottom","labels":false,"grid":true,"gridColor":"#2c2c2c","tickCount":{"interval":"month","step":1},"domain":true,"domainColor":"#3a3a3a","domainWidth":3.5,"offset":1.75}},
"y":{"field":"m","type":"quantitative","scale":{"domain":[-5374,5374],"nice":false,"zero":false},"axis":{"orient":"right","values":[-5000,0],"format":",.2f","labelOverlap":false,"grid":true,"gridColor":"#232323","labelPadding":2}},
"y2":{"datum":0},
"color":{"condition":{"test":"datum.m >= 0","value":"#3ad63a"},"value":"#e03030"}}},
{"data":{"name":"macd"},"mark":{"type":"line","strokeWidth":1,"color":"#c86060","clip":true,"interpolate":"monotone"},
"encoding":{"x":{"field":"d","type":"temporal"},"y":{"field":"a","type":"quantitative","axis":null}}},
{"data":{"name":"macd"},"mark":{"type":"line","strokeWidth":1,"color":"#3858d0","clip":true,"interpolate":"monotone"},
"encoding":{"x":{"field":"d","type":"temporal"},"y":{"field":"b","type":"quantitative","axis":null}}}
],
"resolve":{"axis":{"y":"independent"}}
},
{
"width":622,"height":43,
"title":{"text":"RSI (10,70,30)","anchor":"start","orient":"top","offset":-8,"fontSize":5.5,"color":"#e0e0e0","font":"Liberation Sans","fontWeight":"normal","dx":3},
"layer":[
{"data":{"name":"bands"},"mark":{"type":"rect"},
"encoding":{
"x":{"field":"d1","type":"temporal","scale":{"type":"utc","domain":[1607040000000,1634212800000]},"axis":{"orient":"bottom","labels":false,"tickCount":{"interval":"month","step":1},"offset":4,"domain":true,"domainColor":"#2e2e2e","domainWidth":8.3,"grid":true,"gridColor":"#2c2c2c","zindex":0}},
"x2":{"field":"d2"},
"y":{"field":"lo","type":"quantitative","scale":{"domain":[0,100],"nice":false,"zero":false},"axis":{"orient":"right","values":[0,20,40,60,80],"format":".2f","labelOverlap":false,"grid":true,"gridColor":"#232323","labelPadding":2}},
"y2":{"field":"hi"},
"color":{"condition":{"test":"datum.lo >= 50","value":"#009600"},"value":"#8c0000"}}},
{"data":{"name":"rsi"},"mark":{"type":"line","strokeWidth":1.4,"color":"#2a46dc","clip":true},
"encoding":{"x":{"field":"d","type":"temporal","axis":{"orient":"bottom","tickCount":{"interval":"day","step":5},"labelExpr":"(utcdate(datum.value) == 31 || (utcmonth(datum.value) == 1 && utcdate(datum.value) == 26)) ? '' : ((utcdate(datum.value) == 1 || (utcmonth(datum.value) == 11 && utcdate(datum.value) == 6)) ? utcFormat(datum.value, '%b') : utcFormat(datum.value, '%-d'))","labelFlush":false,"labelOverlap":false,"labelBaseline":"middle","labelPadding":0,"offset":4,"domain":false,"grid":false,"labelColor":"#8c8c8c","zindex":1}},"y":{"field":"r","type":"quantitative","axis":null}}}
],
"resolve":{"axis":{"x":"independent","y":"independent"}}
}
]
}
